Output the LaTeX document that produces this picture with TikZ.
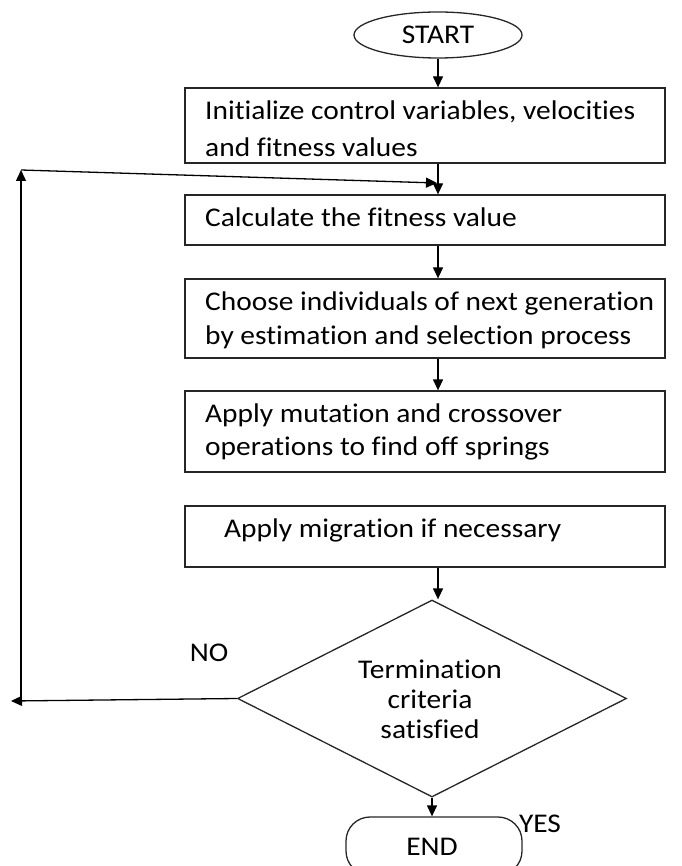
\documentclass[tikz,border=0pt]{standalone}
\usepackage{fontspec}
\setmainfont[FakeStretch=1.09,Ligatures=NoCommon]{Carlito}
\usetikzlibrary{arrows.meta,shapes.geometric}
\tikzset{
  box/.style={draw=black!85, line width=1.3pt, minimum width=480pt, inner sep=0pt},
  txt/.style={font=\fontsize{27}{35}\selectfont, inner sep=0pt, anchor=west},
  ctxt/.style={font=\fontsize{27}{35}\selectfont, inner sep=0pt},
  arr/.style={line width=1.3pt, -{Triangle[length=11pt,width=10pt]}},
  ln/.style={line width=1.3pt}
}
\begin{document}
\begin{tikzpicture}[x=1pt,y=-1pt]
\useasboundingbox (0,0) rectangle (681,866);
\clip (0,0) rectangle (681,866);
% start
\node[draw=black!85, line width=1.3pt, ellipse, minimum width=168pt, minimum height=46pt, inner sep=0pt, font=\fontsize{27}{30}\selectfont] (start) at (438,35) {START};
% boxes
\node[box, minimum height=75pt] (b1) at (425,125.5) {};
\node[txt] (t1a) at (205,112) {Initialize control variables, velocities};
\node[txt] (t1b) at (205,147) {and fitness values};
\node[box, minimum height=50pt] (b2) at (425,220) {};
\node[txt] (t2) at (205,217) {Calculate the fitness value};
\node[box, minimum height=79pt] (b3) at (425,318.5) {};
\node[txt] (t3a) at (205,303) {Choose individuals of next generation};
\node[txt] (t3b) at (205,337) {by estimation and selection process};
\node[box, minimum height=81pt] (b4) at (425,431.5) {};
\node[txt] (t4a) at (205,415) {Apply mutation and crossover};
\node[txt] (t4b) at (205,448) {operations to find off springs};
\node[box, minimum height=61pt] (b5) at (425,536.5) {};
\node[txt] (t5) at (224,530) {Apply migration if  necessary};
% decision
\node[draw=black!85, line width=1.3pt, diamond, minimum width=389pt, minimum height=197pt, inner sep=0pt] (dia) at (432,698.5) {};
\node[ctxt] (d1) at (430,669) {Termination};
\node[ctxt] (d2) at (430,699) {criteria};
\node[ctxt] (d3) at (430,729) {satisfied};
% end
\node[draw=black!85, line width=1.3pt, rounded corners=24pt, minimum width=176pt, minimum height=58pt, inner sep=0pt] (stop) at (434,846) {};
\node[ctxt] (endt) at (432,847) {END};
% labels
\node[ctxt] (no) at (209,653) {NO};
\node[ctxt] (yes) at (540,824) {YES};
% coordinates for loop
\coordinate (lbtip) at (11,701);
\coordinate (lb) at (21,701);
\coordinate (lt) at (21,170);
\coordinate (jn) at (437,183);
% main arrows
\draw[arr] (start.south) -- (start.south |- b1.north);
\draw[arr] (start.south |- b1.south) -- (start.south |- b2.north);
\draw[arr] (start.south |- b2.south) -- (start.south |- b3.north);
\draw[arr] (start.south |- b3.south) -- (start.south |- b4.north);
\draw[arr] (start.south |- b5.south) -- (start.south |- dia.north);
\draw[arr] (dia.south) -- (dia.south |- stop.north);
% loop
\draw[arr] (dia.west) -- (lbtip);
\draw[arr] (lb) -- (lt);
\draw[arr] (lt) -- (jn);
\end{tikzpicture}
\end{document}
